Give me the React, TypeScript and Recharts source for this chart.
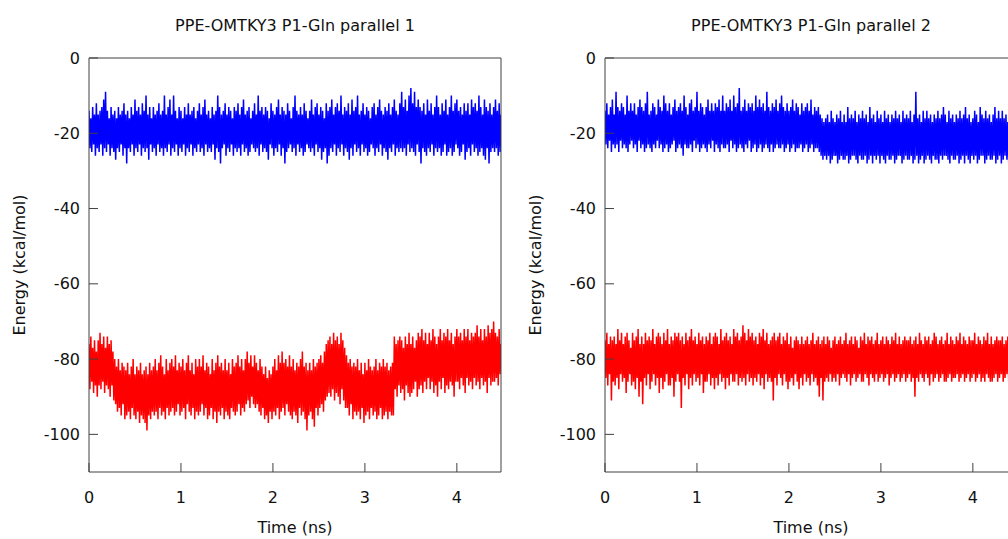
import React from 'react';
import { ComposedChart, Line, XAxis, YAxis } from 'recharts';

// time step of the trajectory samples (ns)
const TIME_STEP = 0.01;

const xTicks = [0, 1, 2, 3, 4];
const yTicks = [-100, -80, -60, -40, -20, 0];

const panelTitles = ['PPE-OMTKY3 P1-Gln parallel 1', 'PPE-OMTKY3 P1-Gln parallel 2'];

// parallel 1, blue trace (kcal/mol), one row = 0.1 ns
const blue1 = [
  -14, -24, -16, -25, -13, -23, -15, -26, -12, -24,
  -15, -25, -14, -23, -13, -26, -11, -24, -9, -25,
  -14, -23, -16, -26, -13, -24, -15, -25, -14, -27,
  -16, -24, -13, -25, -15, -23, -14, -26, -12, -24,
  -15, -28, -14, -24, -16, -25, -13, -23, -15, -26,
  -11, -24, -14, -25, -13, -23, -15, -26, -12, -24,
  -14, -25, -10, -24, -15, -27, -13, -23, -16, -25,
  -13, -24, -15, -26, -14, -23, -12, -25, -15, -24,
  -14, -26, -10, -24, -15, -25, -13, -23, -11, -26,
  -15, -24, -10, -25, -14, -23, -16, -26, -13, -24,
  -14, -25, -16, -23, -13, -26, -15, -24, -12, -25,
  -15, -23, -14, -26, -13, -24, -16, -25, -14, -23,
  -12, -25, -15, -24, -13, -26, -11, -23, -15, -25,
  -14, -24, -16, -25, -13, -23, -15, -27, -14, -24,
  -10, -25, -13, -28, -15, -24, -14, -23, -12, -26,
  -15, -24, -13, -25, -14, -23, -16, -26, -13, -24,
  -14, -25, -12, -24, -15, -26, -13, -23, -11, -25,
  -15, -24, -14, -26, -13, -25, -16, -23, -14, -24,
  -12, -25, -15, -24, -10, -26, -14, -23, -13, -25,
  -15, -24, -13, -25, -14, -27, -16, -23, -12, -24,
  -14, -26, -15, -24, -13, -25, -11, -23, -15, -26,
  -13, -24, -14, -28, -15, -25, -12, -24, -14, -23,
  -16, -25, -13, -24, -10, -26, -14, -23, -15, -25,
  -13, -24, -15, -26, -12, -25, -14, -23, -16, -24,
  -14, -25, -11, -24, -15, -26, -13, -23, -12, -25,
  -15, -24, -13, -27, -14, -25, -16, -24, -12, -28,
  -14, -26, -13, -24, -11, -25, -15, -23, -13, -26,
  -12, -24, -14, -25, -10, -23, -15, -26, -13, -24,
  -14, -25, -12, -27, -15, -24, -11, -26, -14, -23,
  -13, -25, -10, -24, -15, -26, -14, -23, -12, -25,
  -15, -24, -13, -26, -14, -25, -16, -23, -13, -24,
  -12, -26, -15, -24, -13, -25, -11, -23, -14, -26,
  -15, -24, -13, -25, -14, -27, -12, -24, -15, -25,
  -13, -23, -11, -26, -14, -24, -15, -25, -12, -24,
  -9, -25, -13, -24, -11, -26, -14, -23, -10, -25,
  -8, -24, -12, -25, -9, -26, -13, -23, -11, -25,
  -13, -28, -14, -24, -12, -25, -15, -26, -11, -24,
  -14, -25, -12, -23, -15, -26, -13, -24, -10, -25,
  -13, -24, -15, -26, -12, -25, -14, -23, -11, -26,
  -15, -25, -13, -24, -10, -26, -14, -25, -12, -23,
  -11, -24, -14, -26, -13, -25, -15, -23, -12, -27,
  -14, -25, -12, -24, -15, -26, -11, -23, -13, -25,
  -12, -24, -14, -26, -10, -25, -13, -24, -15, -26,
  -11, -27, -13, -24, -14, -28, -12, -25, -15, -24,
  -13, -25, -11, -24, -14, -26, -12, -25, -15,
];

// parallel 1, red trace (kcal/mol)
const red1 = [
  -76, -88, -74, -86, -77, -89, -75, -87, -78, -90,
  -75, -87, -73, -88, -76, -86, -74, -89, -77, -87,
  -74, -88, -76, -90, -75, -87, -78, -91, -80, -92,
  -82, -94, -80, -93, -83, -95, -81, -92, -82, -96,
  -83, -95, -81, -94, -84, -96, -82, -93, -80, -95,
  -84, -96, -82, -94, -83, -97, -81, -95, -84, -96,
  -83, -97, -82, -99, -84, -95, -81, -96, -83, -94,
  -82, -95, -80, -94, -83, -96, -81, -93, -79, -95,
  -82, -94, -84, -96, -80, -93, -83, -95, -81, -94,
  -80, -93, -82, -95, -79, -94, -83, -92, -81, -95,
  -82, -94, -80, -93, -83, -96, -81, -92, -79, -94,
  -83, -95, -81, -93, -84, -96, -80, -94, -82, -95,
  -80, -94, -82, -92, -79, -95, -83, -93, -81, -96,
  -82, -95, -84, -93, -80, -96, -83, -94, -81, -97,
  -79, -94, -82, -95, -81, -93, -83, -96, -80, -94,
  -83, -95, -81, -96, -84, -93, -80, -94, -82, -95,
  -81, -94, -79, -92, -82, -95, -80, -93, -83, -94,
  -80, -92, -78, -91, -81, -93, -79, -90, -82, -92,
  -79, -93, -81, -92, -83, -94, -80, -95, -82, -93,
  -84, -96, -82, -95, -85, -97, -83, -94, -84, -96,
  -82, -94, -80, -95, -83, -93, -79, -96, -81, -94,
  -78, -93, -81, -95, -80, -92, -82, -94, -79, -95,
  -82, -96, -80, -94, -83, -95, -81, -97, -82, -93,
  -80, -95, -78, -94, -82, -96, -81, -99, -83, -95,
  -81, -94, -83, -96, -80, -98, -82, -93, -81, -95,
  -80, -93, -79, -92, -81, -94, -78, -91, -76, -90,
  -75, -89, -74, -90, -76, -88, -73, -91, -75, -89,
  -74, -90, -76, -92, -73, -88, -75, -91, -77, -93,
  -79, -93, -81, -95, -80, -92, -82, -96, -81, -94,
  -82, -95, -80, -94, -83, -96, -81, -93, -84, -97,
  -81, -95, -83, -94, -80, -96, -82, -93, -83, -95,
  -82, -94, -80, -96, -83, -95, -81, -93, -82, -96,
  -80, -95, -82, -94, -81, -96, -83, -94, -82, -95,
  -81, -95, -74, -88, -76, -90, -75, -87, -74, -89,
  -75, -88, -77, -91, -74, -87, -76, -89, -73, -90,
  -76, -89, -74, -88, -77, -86, -75, -90, -73, -88,
  -74, -87, -72, -89, -75, -86, -73, -88, -76, -85,
  -73, -88, -75, -86, -72, -89, -74, -87, -76, -90,
  -74, -86, -72, -88, -75, -85, -73, -89, -74, -87,
  -72, -88, -75, -86, -73, -87, -76, -90, -74, -86,
  -72, -86, -74, -88, -73, -85, -75, -87, -72, -89,
  -74, -85, -72, -87, -75, -86, -73, -88, -74, -85,
  -73, -87, -71, -86, -74, -88, -72, -85, -75, -87,
  -72, -86, -74, -89, -71, -85, -73, -87, -72, -86,
  -70, -86, -73, -85, -74, -87, -72, -84, -76,
];

// parallel 2, blue trace (kcal/mol)
const blue2 = [
  -14, -23, -12, -24, -15, -22, -13, -25, -11, -23,
  -15, -24, -9, -23, -13, -25, -14, -22, -12, -24,
  -13, -23, -15, -24, -10, -25, -14, -23, -12, -22,
  -14, -24, -12, -23, -15, -25, -13, -22, -11, -24,
  -13, -23, -14, -25, -12, -24, -9, -23, -15, -24,
  -14, -25, -12, -23, -13, -24, -15, -22, -11, -24,
  -13, -23, -14, -25, -10, -24, -12, -23, -14, -25,
  -12, -24, -15, -23, -13, -22, -11, -25, -14, -24,
  -13, -23, -12, -24, -14, -26, -10, -23, -13, -24,
  -15, -24, -12, -23, -11, -25, -14, -22, -13, -24,
  -9, -23, -14, -25, -12, -24, -13, -23, -15, -24,
  -13, -25, -11, -23, -14, -24, -12, -22, -14, -25,
  -12, -23, -13, -24, -11, -25, -14, -23, -10, -24,
  -14, -24, -12, -23, -13, -25, -11, -22, -14, -24,
  -10, -23, -13, -25, -12, -24, -8, -23, -14, -24,
  -13, -25, -11, -23, -14, -24, -12, -22, -13, -25,
  -12, -24, -14, -23, -10, -25, -13, -24, -11, -23,
  -13, -25, -12, -24, -14, -23, -9, -24, -13, -25,
  -14, -23, -12, -25, -13, -24, -11, -23, -14, -24,
  -12, -24, -10, -23, -13, -25, -14, -24, -12, -23,
  -14, -25, -13, -24, -11, -23, -14, -25, -12, -24,
  -13, -24, -15, -23, -12, -25, -14, -24, -13, -23,
  -12, -25, -14, -24, -11, -23, -15, -25, -13, -24,
  -14, -24, -13, -25, -15, -26, -16, -27, -17, -26,
  -16, -27, -15, -26, -17, -28, -14, -27, -16, -26,
  -17, -26, -15, -28, -16, -27, -14, -26, -17, -27,
  -15, -27, -17, -26, -13, -28, -16, -27, -15, -26,
  -16, -26, -14, -27, -17, -28, -15, -26, -16, -27,
  -14, -27, -16, -26, -15, -28, -17, -27, -13, -26,
  -16, -28, -15, -26, -17, -27, -14, -26, -16, -28,
  -15, -26, -17, -27, -14, -28, -16, -26, -15, -27,
  -17, -27, -15, -26, -16, -28, -14, -27, -16, -26,
  -15, -26, -17, -28, -14, -27, -16, -26, -15, -27,
  -16, -27, -14, -26, -17, -28, -15, -27, -9, -26,
  -16, -28, -15, -27, -17, -26, -14, -28, -16, -27,
  -14, -26, -16, -27, -15, -28, -17, -26, -15, -27,
  -16, -27, -14, -28, -16, -26, -15, -27, -13, -26,
  -15, -26, -17, -27, -14, -28, -16, -26, -15, -27,
  -17, -27, -15, -26, -16, -28, -14, -27, -16, -26,
  -15, -28, -13, -26, -16, -27, -15, -28, -17, -26,
  -16, -27, -14, -26, -15, -28, -17, -27, -13, -26,
  -15, -26, -16, -28, -14, -27, -16, -26, -15, -27,
  -17, -27, -15, -26, -13, -28, -16, -27, -14, -26,
  -16, -28, -14, -27, -16, -26, -15, -27, -17, -28,
  -14, -26, -16, -27, -15, -28, -13, -26, -16,
];

// parallel 2, red trace (kcal/mol)
const red2 = [
  -75, -85, -73, -87, -76, -84, -74, -91, -75, -86,
  -74, -87, -76, -85, -72, -88, -75, -84, -73, -86,
  -76, -85, -74, -89, -73, -86, -75, -84, -77, -87,
  -73, -86, -75, -88, -74, -85, -72, -90, -76, -86,
  -74, -92, -76, -85, -73, -87, -75, -84, -74, -88,
  -75, -86, -72, -84, -76, -87, -74, -85, -73, -89,
  -74, -85, -76, -88, -73, -86, -75, -84, -72, -87,
  -76, -87, -74, -85, -75, -90, -73, -86, -74, -84,
  -73, -86, -75, -93, -74, -85, -76, -87, -73, -84,
  -75, -88, -74, -85, -72, -87, -75, -84, -74, -86,
  -76, -85, -73, -87, -75, -84, -74, -89, -76, -86,
  -74, -86, -75, -84, -73, -87, -76, -85, -74, -88,
  -73, -85, -74, -87, -76, -84, -72, -86, -75, -85,
  -74, -88, -73, -85, -75, -87, -74, -84, -76, -86,
  -72, -86, -74, -84, -73, -87, -75, -85, -74, -86,
  -71, -85, -73, -87, -75, -84, -72, -86, -74, -85,
  -73, -87, -75, -85, -74, -86, -76, -84, -73, -87,
  -74, -85, -72, -88, -75, -84, -73, -86, -76, -85,
  -75, -86, -74, -91, -73, -85, -75, -87, -74, -84,
  -73, -85, -76, -87, -74, -84, -75, -86, -73, -88,
  -76, -86, -74, -85, -77, -87, -75, -84, -74, -86,
  -75, -88, -76, -85, -74, -87, -76, -84, -75, -86,
  -74, -85, -76, -87, -75, -84, -73, -86, -76, -85,
  -75, -87, -74, -90, -76, -85, -75, -91, -74, -86,
  -76, -85, -74, -86, -75, -84, -77, -86, -75, -85,
  -74, -86, -76, -84, -75, -87, -74, -85, -76, -84,
  -75, -85, -73, -86, -76, -84, -75, -87, -74, -85,
  -76, -84, -74, -86, -75, -85, -77, -84, -74, -86,
  -75, -86, -73, -84, -76, -85, -74, -87, -75, -84,
  -74, -85, -76, -86, -75, -84, -73, -86, -76, -85,
  -75, -84, -74, -86, -76, -85, -74, -84, -75, -87,
  -76, -85, -74, -84, -75, -86, -73, -85, -76, -84,
  -74, -86, -76, -85, -75, -84, -74, -86, -75, -85,
  -75, -84, -74, -86, -76, -85, -75, -90, -74, -85,
  -76, -86, -73, -84, -75, -85, -76, -86, -74, -84,
  -75, -85, -74, -87, -76, -84, -75, -86, -73, -85,
  -74, -84, -76, -86, -75, -85, -74, -84, -76, -86,
  -75, -86, -73, -85, -76, -84, -74, -86, -75, -85,
  -76, -85, -74, -84, -75, -86, -73, -85, -76, -84,
  -74, -86, -75, -85, -76, -84, -74, -86, -75, -85,
  -75, -84, -73, -86, -76, -85, -74, -84, -75, -86,
  -76, -85, -74, -86, -75, -84, -73, -85, -76, -86,
  -74, -86, -76, -85, -75, -84, -74, -86, -75, -85,
  -75, -84, -74, -86, -76, -85, -75, -84, -74, -86,
  -76, -85, -74, -86, -75, -84, -76, -85, -75,
];

const FONT = '"DejaVu Sans", Verdana, sans-serif';
const BORDER = '#404040';
const BLUE = '#0000ff';
const RED = '#ff0000';

const buildTrace = (values: number[]) =>
  values.map((v, i) => ({ t: +(i * TIME_STEP).toFixed(2), e: v }));

interface PanelProps {
  title: string;
  upper: number[];
  lower: number[];
  left: number;
}

const Panel: React.FC<PanelProps> = ({ title, upper, lower, left }) => {
  const tickStyle = { fill: '#111', fontSize: 16, fontFamily: FONT };
  const textBase: React.CSSProperties = {
    position: 'absolute', lineHeight: '16px', fontFamily: FONT, fontSize: 16,
    color: '#111', whiteSpace: 'nowrap',
  };
  return (
    <div style={{ position: 'absolute', left, top: 0, width: 520, height: 539 }}>
      <div style={{ ...textBase, left: 0, width: 590, top: 17.5, textAlign: 'center' }}>{title}</div>
      <ComposedChart width={520} height={539} margin={{ top: 57, right: 18, bottom: 66, left: 88 }}>
        <XAxis
          xAxisId="bottom"
          dataKey="t"
          type="number"
          domain={[0, 4.48]}
          ticks={xTicks}
          height={1}
          tickSize={-9}
          tickMargin={29}
          tick={tickStyle}
          axisLine={{ stroke: BORDER }}
          tickLine={{ stroke: BORDER }}
          allowDataOverflow
        />
        <XAxis
          xAxisId="top"
          orientation="top"
          type="number"
          domain={[0, 4.48]}
          ticks={xTicks}
          height={1}
          tickSize={-9}
          tick={false}
          axisLine={{ stroke: BORDER }}
          tickLine={{ stroke: BORDER }}
        />
        <YAxis
          yAxisId="left"
          type="number"
          domain={[-110, 0]}
          ticks={yTicks}
          width={1}
          tickSize={-9}
          tickMargin={18}
          tick={tickStyle}
          axisLine={{ stroke: BORDER }}
          tickLine={{ stroke: BORDER }}
          allowDataOverflow
        />
        <YAxis
          yAxisId="right"
          orientation="right"
          type="number"
          domain={[-110, 0]}
          ticks={yTicks}
          width={1}
          tickSize={-9}
          tick={false}
          axisLine={{ stroke: BORDER }}
          tickLine={{ stroke: BORDER }}
        />
        <Line
          xAxisId="bottom"
          yAxisId="left"
          data={buildTrace(upper)}
          dataKey="e"
          type="linear"
          stroke={BLUE}
          strokeWidth={1.5}
          dot={false}
          isAnimationActive={false}
        />
        <Line
          xAxisId="bottom"
          yAxisId="left"
          data={buildTrace(lower)}
          dataKey="e"
          type="linear"
          stroke={RED}
          strokeWidth={1.5}
          dot={false}
          isAnimationActive={false}
        />
      </ComposedChart>
      <div style={{ ...textBase, left: 0, width: 590, top: 519.5, textAlign: 'center' }}>Time (ns)</div>
      <div
        style={{
          ...textBase, left: 19.5, top: 265,
          transform: 'translate(-50%, -50%) rotate(-90deg)',
        }}
      >
        Energy (kcal/mol)
      </div>
    </div>
  );
};

export default function App() {
  return (
    <div
      style={{
        position: 'fixed', left: 0, top: 0, width: 1008, height: 539,
        overflow: 'hidden', background: '#fff',
      }}
    >
      <Panel title={panelTitles[0]} upper={blue1} lower={red1} left={0} />
      <Panel title={panelTitles[1]} upper={blue2} lower={red2} left={516} />
    </div>
  );
}
